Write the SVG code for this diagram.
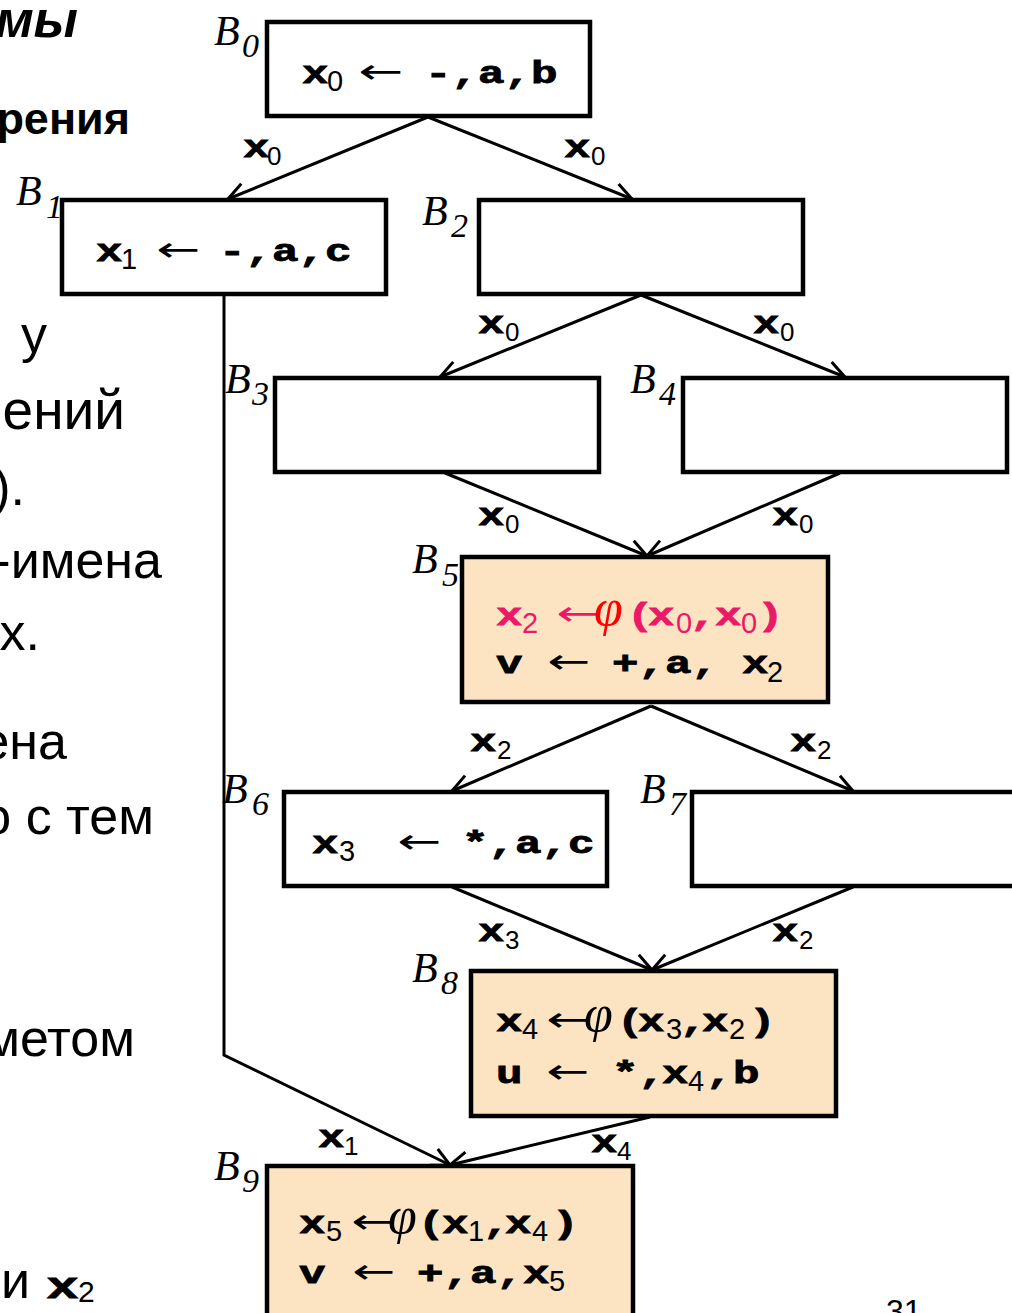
<svg xmlns="http://www.w3.org/2000/svg" width="1012" height="1313" viewBox="0 0 1012 1313">
<defs>
<style>
.box{fill:#fff;stroke:#000;stroke-width:4.5}
.phi-box{fill:#fce4c3;stroke:#000;stroke-width:4.5}
.c{fill:none;stroke:#000;stroke-width:3}
.m{font-family:"Liberation Mono","Courier New",monospace;font-weight:bold;font-size:31px;stroke:#000;stroke-width:0.8}
.s{font-family:"Liberation Sans",Arial,sans-serif;font-size:29px}
.es{font-family:"Liberation Sans",Arial,sans-serif;font-size:26px}
.ar{font-family:"DejaVu Sans",sans-serif;font-size:34px}
.ph{font-family:"Liberation Serif","Times New Roman",serif;font-style:italic;font-size:52px}
.B{font-family:"Liberation Serif","Times New Roman",serif;font-style:italic;font-size:42px}
.Bs{font-family:"Liberation Serif","Times New Roman",serif;font-style:italic;font-size:34px}
.t{font-family:"Liberation Sans",Arial,sans-serif;font-size:52px}
.pk{fill:#ec1868}
.pk .m{stroke:#ec1868}
.rd{fill:#ff0000}
</style>
<marker id="ah" viewBox="-22 -12 26 24" refX="0" refY="0" markerWidth="26" markerHeight="24" markerUnits="userSpaceOnUse" orient="auto">
<path d="M-18,-9 L0,0 L-18,9" fill="none" stroke="#000" stroke-width="3"/>
</marker>
</defs>
<rect width="1012" height="1313" fill="#fff"/>

<g id="side-text">
<text class="t" x="78" y="37" text-anchor="end" font-weight="bold" font-style="italic">мы</text>
<text class="t" x="130" y="134" text-anchor="end" font-weight="bold" style="font-size:45px">рения</text>
<text class="t" x="47" y="352" text-anchor="end">у</text>
<text class="t" x="125" y="429" text-anchor="end" style="font-size:55px">ений</text>
<text class="t" x="25" y="505" text-anchor="end">).</text>
<text class="t" x="162" y="578" text-anchor="end">-имена</text>
<text class="t" x="40" y="650" text-anchor="end">х.</text>
<text class="t" x="67" y="759" text-anchor="end">ена</text>
<text class="t" x="154" y="834" text-anchor="end">о с тем</text>
<text class="t" x="135" y="1056" text-anchor="end">иметом</text>
<text class="t" x="30" y="1298" text-anchor="end">и</text>
<text class="m" x="46" y="1298" style="font-size:36px" textLength="33" lengthAdjust="spacingAndGlyphs">x</text>
<text class="s" x="78" y="1302" style="font-size:30px">2</text>
<text class="t" x="886" y="1322" style="font-size:32px">31</text>
</g>

<g id="connectors">
<line class="c" x1="428" y1="117" x2="228" y2="199" marker-end="url(#ah)"/>
<line class="c" x1="428" y1="117" x2="632" y2="199" marker-end="url(#ah)"/>
<line class="c" x1="641" y1="295" x2="440" y2="377" marker-end="url(#ah)"/>
<line class="c" x1="641" y1="295" x2="845" y2="377" marker-end="url(#ah)"/>
<line class="c" x1="445" y1="473" x2="647" y2="556" marker-end="url(#ah)"/>
<line class="c" x1="840" y1="473" x2="647" y2="556" marker-end="url(#ah)"/>
<line class="c" x1="651" y1="706" x2="452" y2="791" marker-end="url(#ah)"/>
<line class="c" x1="651" y1="706" x2="853" y2="791" marker-end="url(#ah)"/>
<line class="c" x1="452" y1="887" x2="652" y2="970" marker-end="url(#ah)"/>
<line class="c" x1="853" y1="887" x2="652" y2="970" marker-end="url(#ah)"/>
<polyline class="c" points="224,295 224,1055 450,1165" marker-end="url(#ah)"/>
<line class="c" x1="650" y1="1117" x2="450" y2="1165" marker-end="url(#ah)"/>
<g id="edge-labels">
<text class="m" x="243" y="157" textLength="26.5" lengthAdjust="spacingAndGlyphs">x</text><text class="es" x="267" y="165">0</text>
<text class="m" x="564" y="157" textLength="26.5" lengthAdjust="spacingAndGlyphs">x</text><text class="es" x="591" y="165">0</text>
<text class="m" x="478" y="333" textLength="26.5" lengthAdjust="spacingAndGlyphs">x</text><text class="es" x="505" y="341">0</text>
<text class="m" x="753" y="333" textLength="26.5" lengthAdjust="spacingAndGlyphs">x</text><text class="es" x="780" y="341">0</text>
<text class="m" x="478" y="525" textLength="26.5" lengthAdjust="spacingAndGlyphs">x</text><text class="es" x="505" y="533">0</text>
<text class="m" x="772" y="525" textLength="26.5" lengthAdjust="spacingAndGlyphs">x</text><text class="es" x="799" y="533">0</text>
<text class="m" x="470" y="751" textLength="26.5" lengthAdjust="spacingAndGlyphs">x</text><text class="es" x="497" y="759">2</text>
<text class="m" x="790" y="751" textLength="26.5" lengthAdjust="spacingAndGlyphs">x</text><text class="es" x="817" y="759">2</text>
<text class="m" x="478" y="941" textLength="26.5" lengthAdjust="spacingAndGlyphs">x</text><text class="es" x="505" y="949">3</text>
<text class="m" x="772" y="941" textLength="26.5" lengthAdjust="spacingAndGlyphs">x</text><text class="es" x="799" y="949">2</text>
<text class="m" x="318" y="1147" textLength="26.5" lengthAdjust="spacingAndGlyphs">x</text><text class="es" x="344" y="1155">1</text>
<text class="m" x="591" y="1152" textLength="26.5" lengthAdjust="spacingAndGlyphs">x</text><text class="es" x="617" y="1160">4</text>
</g>
</g>

<g id="B0">
<rect class="box" x="267" y="22" width="323" height="94"/>
<text class="B" x="214" y="45">B</text><text class="Bs" x="242" y="57">0</text>
<text class="m" x="302" y="83" textLength="26.5" lengthAdjust="spacingAndGlyphs">x</text>
<text class="s" x="327" y="91">0</text>
<text class="ar" x="358" y="83" textLength="45" lengthAdjust="spacingAndGlyphs">←</text>
<text class="m" x="425" y="83" textLength="132.5" lengthAdjust="spacingAndGlyphs">-,a,b</text>
</g>

<g id="B1">
<rect class="box" x="62" y="200" width="324" height="94"/>
<text class="B" x="16" y="205">B</text><text class="Bs" x="46" y="218">1</text>
<text class="m" x="96" y="261" textLength="26.5" lengthAdjust="spacingAndGlyphs">x</text>
<text class="s" x="121" y="269">1</text>
<text class="ar" x="156" y="261" textLength="44" lengthAdjust="spacingAndGlyphs">←</text>
<text class="m" x="219" y="261" textLength="132.5" lengthAdjust="spacingAndGlyphs">-,a,c</text>
</g>

<g id="B2">
<rect class="box" x="479" y="200" width="324" height="94"/>
<text class="B" x="422" y="225">B</text><text class="Bs" x="451" y="237">2</text>
</g>

<g id="B3">
<rect class="box" x="275" y="378" width="324" height="94"/>
<text class="B" x="225" y="393">B</text><text class="Bs" x="252" y="405">3</text>
</g>

<g id="B4">
<rect class="box" x="683" y="378" width="324" height="94"/>
<text class="B" x="630" y="393">B</text><text class="Bs" x="659" y="405">4</text>
</g>

<g id="B5">
<rect class="phi-box" x="462" y="557" width="366" height="145"/>
<text class="B" x="412" y="573">B</text><text class="Bs" x="442" y="586">5</text>
<g class="pk">
<text class="m" x="496" y="625" textLength="26.5" lengthAdjust="spacingAndGlyphs">x</text>
<text class="s" x="522" y="633">2</text>
<text class="ar" x="556" y="625" textLength="43" lengthAdjust="spacingAndGlyphs">←</text>
<text class="m" x="627" y="625" textLength="26.5" lengthAdjust="spacingAndGlyphs">(</text>
<text class="m" x="648" y="625" textLength="26.5" lengthAdjust="spacingAndGlyphs">x</text>
<text class="s" x="676" y="633">0</text>
<text class="m" x="690" y="625" textLength="26.5" lengthAdjust="spacingAndGlyphs">,</text>
<text class="m" x="715" y="625" textLength="26.5" lengthAdjust="spacingAndGlyphs">x</text>
<text class="s" x="741" y="633">0</text>
<text class="m" x="757" y="625" textLength="26.5" lengthAdjust="spacingAndGlyphs">)</text>
</g>
<text class="ph rd" x="594" y="625">φ</text>
<text class="m" x="496" y="673" textLength="26.5" lengthAdjust="spacingAndGlyphs">v</text>
<text class="ar" x="547" y="673" textLength="43" lengthAdjust="spacingAndGlyphs">←</text>
<text class="m" x="612" y="673" textLength="106" lengthAdjust="spacingAndGlyphs">+,a,</text>
<text class="m" x="742" y="673" textLength="26.5" lengthAdjust="spacingAndGlyphs">x</text>
<text class="s" x="767" y="682">2</text>
</g>

<g id="B6">
<rect class="box" x="284" y="792" width="323" height="94"/>
<text class="B" x="222" y="803">B</text><text class="Bs" x="252" y="815">6</text>
<text class="m" x="312" y="853" textLength="26.5" lengthAdjust="spacingAndGlyphs">x</text>
<text class="s" x="339" y="861">3</text>
<text class="ar" x="397" y="853" textLength="44" lengthAdjust="spacingAndGlyphs">←</text>
<text class="m" x="462" y="853" textLength="132.5" lengthAdjust="spacingAndGlyphs">*,a,c</text>
</g>

<g id="B7">
<rect class="box" x="692" y="792" width="340" height="94"/>
<text class="B" x="640" y="803">B</text><text class="Bs" x="669" y="815">7</text>
</g>

<g id="B8">
<rect class="phi-box" x="471" y="971" width="365" height="145"/>
<text class="B" x="412" y="982">B</text><text class="Bs" x="441" y="994">8</text>
<text class="m" x="496" y="1031" textLength="26.5" lengthAdjust="spacingAndGlyphs">x</text>
<text class="s" x="522" y="1039">4</text>
<text class="ar" x="546" y="1031" textLength="43" lengthAdjust="spacingAndGlyphs">←</text>
<text class="ph" x="584" y="1031">φ</text>
<text class="m" x="617" y="1031" textLength="26.5" lengthAdjust="spacingAndGlyphs">(</text>
<text class="m" x="638" y="1031" textLength="26.5" lengthAdjust="spacingAndGlyphs">x</text>
<text class="s" x="666" y="1039">3</text>
<text class="m" x="680" y="1031" textLength="26.5" lengthAdjust="spacingAndGlyphs">,</text>
<text class="m" x="702" y="1031" textLength="26.5" lengthAdjust="spacingAndGlyphs">x</text>
<text class="s" x="729" y="1039">2</text>
<text class="m" x="749" y="1031" textLength="26.5" lengthAdjust="spacingAndGlyphs">)</text>
<text class="m" x="496" y="1083" textLength="26.5" lengthAdjust="spacingAndGlyphs">u</text>
<text class="ar" x="546" y="1083" textLength="43" lengthAdjust="spacingAndGlyphs">←</text>
<text class="m" x="612" y="1083" textLength="53" lengthAdjust="spacingAndGlyphs">*,</text>
<text class="m" x="662" y="1083" textLength="26.5" lengthAdjust="spacingAndGlyphs">x</text>
<text class="s" x="688" y="1091">4</text>
<text class="m" x="706" y="1083" textLength="26.5" lengthAdjust="spacingAndGlyphs">,</text>
<text class="m" x="733" y="1083" textLength="26.5" lengthAdjust="spacingAndGlyphs">b</text>
</g>

<g id="B9">
<rect class="phi-box" x="267" y="1166" width="366" height="170"/>
<text class="B" x="214" y="1180">B</text><text class="Bs" x="242" y="1192">9</text>
<text class="m" x="299" y="1233" textLength="26.5" lengthAdjust="spacingAndGlyphs">x</text>
<text class="s" x="326" y="1241">5</text>
<text class="ar" x="351" y="1233" textLength="43" lengthAdjust="spacingAndGlyphs">←</text>
<text class="ph" x="388" y="1233">φ</text>
<text class="m" x="418" y="1233" textLength="26.5" lengthAdjust="spacingAndGlyphs">(</text>
<text class="m" x="442" y="1233" textLength="26.5" lengthAdjust="spacingAndGlyphs">x</text>
<text class="s" x="468" y="1241">1</text>
<text class="m" x="483" y="1233" textLength="26.5" lengthAdjust="spacingAndGlyphs">,</text>
<text class="m" x="505" y="1233" textLength="26.5" lengthAdjust="spacingAndGlyphs">x</text>
<text class="s" x="532" y="1241">4</text>
<text class="m" x="552" y="1233" textLength="26.5" lengthAdjust="spacingAndGlyphs">)</text>
<text class="m" x="299" y="1283" textLength="26.5" lengthAdjust="spacingAndGlyphs">v</text>
<text class="ar" x="352" y="1283" textLength="43" lengthAdjust="spacingAndGlyphs">←</text>
<text class="m" x="417" y="1283" textLength="106" lengthAdjust="spacingAndGlyphs">+,a,</text>
<text class="m" x="523" y="1283" textLength="26.5" lengthAdjust="spacingAndGlyphs">x</text>
<text class="s" x="549" y="1291">5</text>
</g>
</svg>
